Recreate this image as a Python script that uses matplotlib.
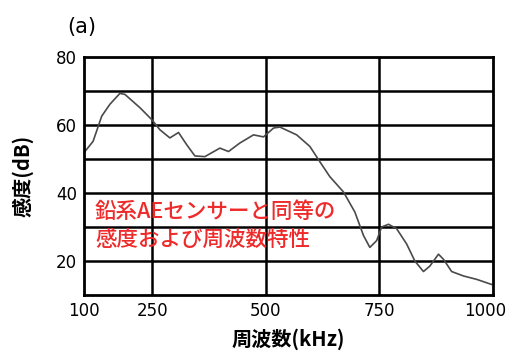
import numpy as np
import matplotlib
matplotlib.use("Agg")
import matplotlib.pyplot as plt
from matplotlib.transforms import ScaledTranslation

plt.rcParams['font.family'] = ['Noto Sans CJK JP', 'DejaVu Sans']

# frequency (kHz) and sensitivity (dB)
freq = [102, 120, 139, 157, 179, 190, 223, 249, 267, 289, 308, 326, 344, 366,
        399, 418, 443, 473, 495, 517, 531, 568, 597, 619, 641, 671, 696, 715,
        729, 744, 755, 770, 788, 810, 828, 847, 861, 880, 891, 909, 935, 964, 997]
sens = [52.2, 55.2, 62.6, 66.1, 69.3, 69.0, 65.1, 61.6, 58.6, 56.2, 57.8, 54.2,
        50.9, 50.7, 53.2, 52.2, 54.7, 57.1, 56.5, 59.1, 59.4, 57.1, 53.7, 49.2,
        44.8, 40.3, 34.4, 27.5, 24.0, 26.0, 30.0, 30.8, 29.5, 25.0, 20.0, 16.9,
        18.5, 22.0, 20.5, 16.9, 15.6, 14.6, 13.1]

xticks = [100, 250, 500, 750, 1000]
yticks = [20, 40, 60, 80]
hgrid = [20, 30, 40, 50, 60, 70]
vgrid = [250, 500, 750]

fig = plt.figure(figsize=(5.1, 3.52), dpi=100)
ax = fig.add_axes([84/510, 1-295/352, (493-84)/510, (295-57)/352])

for g in hgrid:
    ax.axhline(g, color='black', lw=1.8, zorder=1)
for g in vgrid:
    ax.axvline(g, color='black', lw=1.8, zorder=1)

ax.plot(freq, sens, color='#4a4a4a', lw=1.2, zorder=2)

ax.set_xlim(100, 1000)
ax.set_ylim(10, 80)
ax.set_xticks(xticks)
ax.set_yticks(yticks)
ax.tick_params(length=0, pad=5)
for lbl in ax.get_xticklabels() + ax.get_yticklabels():
    lbl.set_fontfamily('DejaVu Sans')
    lbl.set_fontsize(12)
last = ax.get_xticklabels()[-1]
last.set_transform(last.get_transform() + ScaledTranslation(-8/100, 0, fig.dpi_scale_trans))
for s in ax.spines.values():
    s.set_linewidth(2)

ax.set_xlabel('周波数(kHz)', fontsize=14.5, fontweight='bold', labelpad=6)
ax.set_ylabel('感度(dB)', fontsize=14.5, fontweight='bold', labelpad=16)

ax.text(0.027, 0.29, '鉛系AEセンサーと同等の\n感度および周波数特性', transform=ax.transAxes,
        color='#ee2a2a', fontsize=15.5, fontweight='medium', va='center', ha='left',
        linespacing=1.3, zorder=3)
fig.text(67/510, 1-27/352, '(a)', fontsize=15, family='DejaVu Sans', va='center', ha='left')

fig.savefig('out.png', dpi=100)
